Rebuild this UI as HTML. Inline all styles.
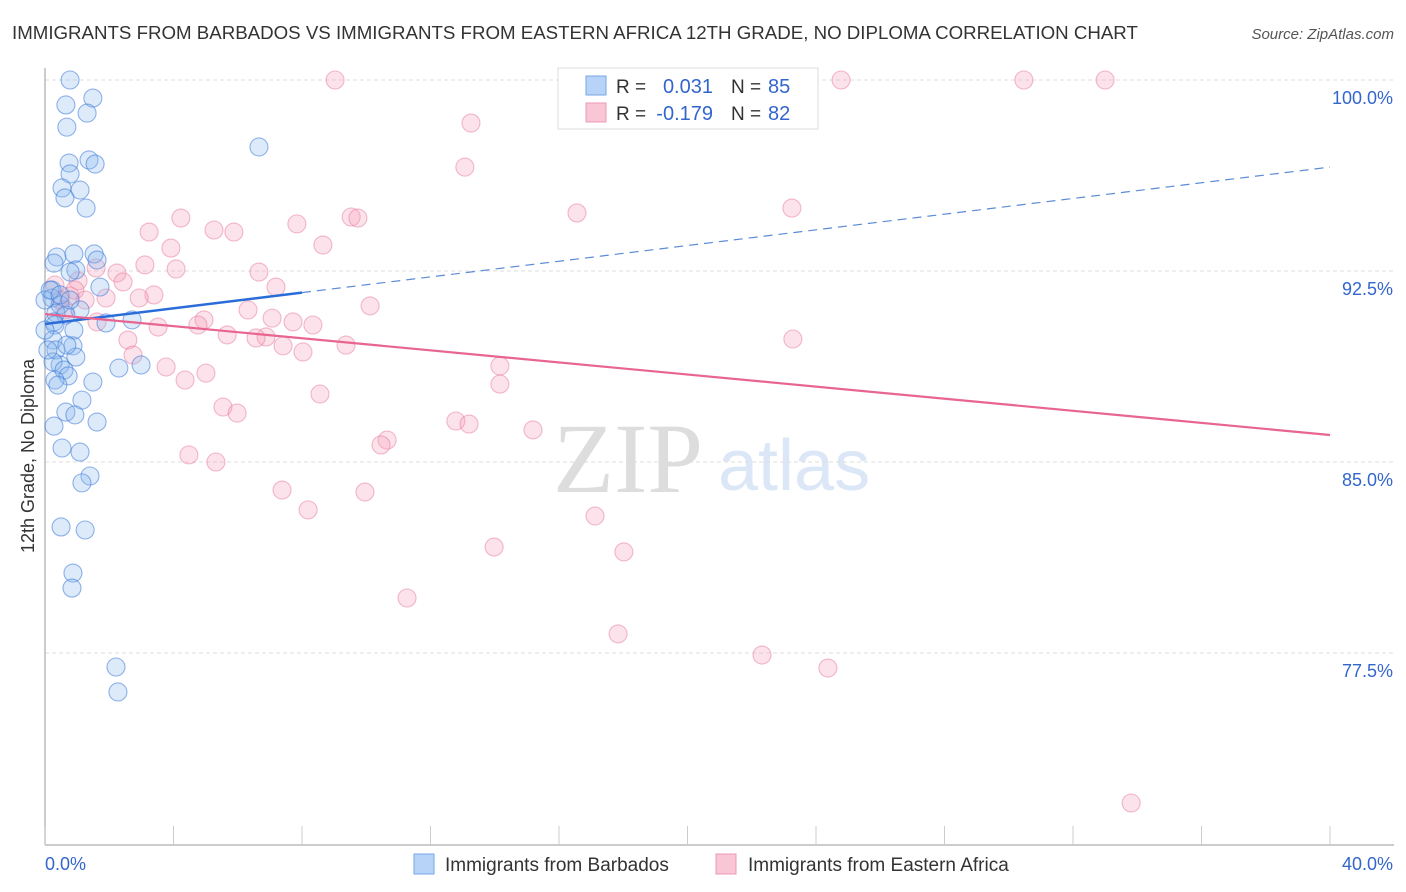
<!DOCTYPE html>
<html><head><meta charset="utf-8"><style>
body{margin:0;background:#fff;font-family:"Liberation Sans",sans-serif;}
#wrap{position:relative;width:1406px;height:892px;overflow:hidden}
</style></head><body><div id="wrap">
<svg id="svg" width="1406" height="892"></svg>
</div>
<script>
const blueX=[0.78,0.65,1.49,1.31,0.68,0.75,1.37,1.56,0.78,0.53,1.09,0.62,1.28,6.66,0.90,1.53,0.37,1.62,0.28,0.96,0.78,1.71,0.22,0.22,0.47,1.09,0.34,0.65,0.28,0.90,0.31,2.71,1.90,0.25,0.87,0.34,0.96,0.47,0.25,0.59,0.72,2.99,2.30,0.31,0.40,1.49,1.15,0.65,0.93,1.62,0.28,0.53,1.09,1.40,1.15,0.50,1.25,0.87,0.84,2.21,2.27,0.0,0.0,0.09,0.16,0.47,0.78,0.68];
const blueY=[100.0,99.02,99.29,98.70,98.15,96.74,96.86,96.70,96.31,95.76,95.68,95.37,94.97,97.37,93.17,93.17,93.05,92.93,92.81,92.54,92.46,91.87,91.75,91.44,91.17,90.97,90.85,90.77,90.50,90.18,90.38,90.58,90.46,89.79,89.56,89.40,89.12,88.81,88.93,88.61,88.38,88.81,88.69,88.22,88.02,88.14,87.43,86.96,86.85,86.57,86.41,85.55,85.39,84.45,84.18,82.45,82.33,80.64,80.05,76.95,75.97,91.36,90.18,89.40,91.75,91.56,91.36,89.59];
const pinkX=[9.03,24.78,30.47,33.00,13.26,13.07,16.56,23.25,4.23,9.53,9.74,7.84,5.26,3.24,5.88,8.65,3.92,6.66,3.11,4.08,1.59,2.24,2.43,7.19,1.03,3.39,2.93,0.78,1.90,10.12,6.32,7.07,4.95,1.62,3.52,7.72,8.34,4.76,5.67,6.88,6.57,7.41,2.58,9.37,8.03,23.28,2.74,3.77,5.01,4.36,14.16,14.16,8.56,5.54,5.98,12.79,13.20,10.65,10.46,15.19,4.48,5.32,7.38,9.96,8.19,17.12,13.98,18.02,11.27,17.84,22.32,24.37,33.81,0.47,0.93,0.31,0.62,1.25];
const pinkY=[100.0,100.0,100.0,100.0,98.31,96.58,94.78,94.97,94.58,94.62,94.58,94.35,94.11,94.03,94.03,93.52,93.40,92.46,92.74,92.58,92.62,92.42,92.07,91.87,92.11,91.56,91.44,91.52,91.44,91.13,90.97,90.65,90.58,90.50,90.30,90.50,90.38,90.38,89.99,89.91,89.87,89.56,89.79,89.59,89.32,89.83,89.20,88.73,88.49,88.22,88.77,88.06,87.67,87.16,86.92,86.61,86.49,85.86,85.67,86.26,85.28,85.00,83.90,83.82,83.12,82.88,81.66,81.47,79.66,78.25,77.42,76.91,71.61,91.36,91.75,91.95,90.97,91.36];
const blueTrend=[90.42,96.58]; // at x=0 and x=40
const blueSolidEnd=8;
const pinkTrend=[90.81,86.06];
const yTicks=[100,92.5,85,77.5];
const yTickLabels=["100.0%","92.5%","85.0%","77.5%"];
const xTicks=[0,4,8,12,16,20,24,28,32,36,40];

const X=v=>45+v*1285/40;
const Y=v=>80+(100-v)*191/7.5;
const svg=document.getElementById('svg');
const NS='http://www.w3.org/2000/svg';
function mk(tag,attrs,parent){const e=document.createElementNS(NS,tag);for(const k in attrs)e.setAttribute(k,attrs[k]);(parent||svg).appendChild(e);return e;}

let t=mk('text',{x:12,y:39,'font-size':18.7,fill:'#333'});t.textContent='IMMIGRANTS FROM BARBADOS VS IMMIGRANTS FROM EASTERN AFRICA 12TH GRADE, NO DIPLOMA CORRELATION CHART';


t=mk('text',{x:1394,y:39,'font-size':15,fill:'#555','font-style':'italic','text-anchor':'end'});t.textContent='Source: ZipAtlas.com';



t=mk('text',{x:553,y:492,'font-size':100,fill:'#ddd','font-family':'Liberation Serif,serif'});t.textContent='ZIP';


t=mk('text',{x:718,y:490,'font-size':72,fill:'#dbe7f7'});t.textContent='atlas';



yTicks.forEach((v,i)=>{
 const g=mk('line',{x1:45,x2:1394,y1:Y(v),y2:Y(v),stroke:'#ddd','stroke-dasharray':'4,3'});
 
 
 const l=mk('text',{x:1393,y:Y(v)+24,'font-size':18,fill:'#3366cc','text-anchor':'end'});l.textContent=yTickLabels[i];
 
 
});
let a=mk('line',{x1:45,x2:45,y1:68,y2:845,stroke:'#bbb','stroke-width':1.5});


a=mk('line',{x1:45,x2:1394,y1:845,y2:845,stroke:'#bbb','stroke-width':1.5});


xTicks.forEach(v=>{const k=mk('line',{x1:X(v),x2:X(v),y1:826,y2:845,stroke:'#ccc'});
 
 });
t=mk('text',{x:45,y:870,'font-size':18,fill:'#3366cc'});t.textContent='0.0%';


t=mk('text',{x:1393,y:870,'font-size':18,fill:'#3366cc','text-anchor':'end'});t.textContent='40.0%';


t=mk('text',{x:34,y:456,'font-size':18,fill:'#333','text-anchor':'middle',transform:'rotate(-90 34 456)'});t.textContent='12th Grade, No Diploma';



pinkX.forEach((x,i)=>{const c=mk('circle',{cx:X(x),cy:Y(pinkY[i]),r:9,fill:'rgba(244,160,186,0.3)',stroke:'rgba(232,120,155,0.5)','stroke-width':1.1});
 
 });
blueX.forEach((x,i)=>{const c=mk('circle',{cx:X(x),cy:Y(blueY[i]),r:9,fill:'rgba(140,185,240,0.3)',stroke:'rgba(60,120,215,0.55)','stroke-width':1.1});
 
 });

const bAt=x=>blueTrend[0]+(blueTrend[1]-blueTrend[0])*x/40;
let ln=mk('line',{x1:X(0),y1:Y(bAt(0)),x2:X(blueSolidEnd),y2:Y(bAt(blueSolidEnd)),stroke:'#2a6dd9','stroke-width':2.5});


ln=mk('line',{x1:X(blueSolidEnd),y1:Y(bAt(blueSolidEnd)),x2:X(40),y2:Y(bAt(40)),stroke:'#5b8bd6','stroke-width':1.2,'stroke-dasharray':'9,6'});


ln=mk('line',{x1:X(0),y1:Y(pinkTrend[0]),x2:X(40),y2:Y(pinkTrend[1]),stroke:'#e8658f','stroke-width':2.2});



let g=mk('g',{});


mk('rect',{x:558,y:68,width:260,height:61,fill:'#fff',stroke:'#ddd'},g);
mk('rect',{x:586,y:76,width:20,height:19,fill:'#b7d3f7',stroke:'#7aa6e6'},g);
mk('rect',{x:586,y:103,width:20,height:19,fill:'#f9c6d5',stroke:'#eb9ab3'},g);
[[93,'0.031','85'],[120,'-0.179','82']].forEach(r=>{
 let a=mk('text',{x:616,y:r[0],'font-size':19,fill:'#333'},g);a.textContent='R = ';
 a=mk('text',{x:713,y:r[0],'font-size':20,fill:'#3366cc','text-anchor':'end'},g);a.textContent=r[1];
 a=mk('text',{x:731,y:r[0],'font-size':19,fill:'#333'},g);a.textContent='N = ';
 a=mk('text',{x:768,y:r[0],'font-size':20,fill:'#3366cc'},g);a.textContent=r[2];
});

g=mk('g',{});


mk('rect',{x:414,y:854,width:20,height:20,fill:'#b7d3f7',stroke:'#7aa6e6'},g);
t=mk('text',{x:445,y:871,'font-size':19,fill:'#333'},g);t.textContent='Immigrants from Barbados';
mk('rect',{x:716,y:854,width:20,height:20,fill:'#f9c6d5',stroke:'#eb9ab3'},g);
t=mk('text',{x:748,y:871,'font-size':19,fill:'#333'},g);t.textContent='Immigrants from Eastern Africa';
</script></body></html>
